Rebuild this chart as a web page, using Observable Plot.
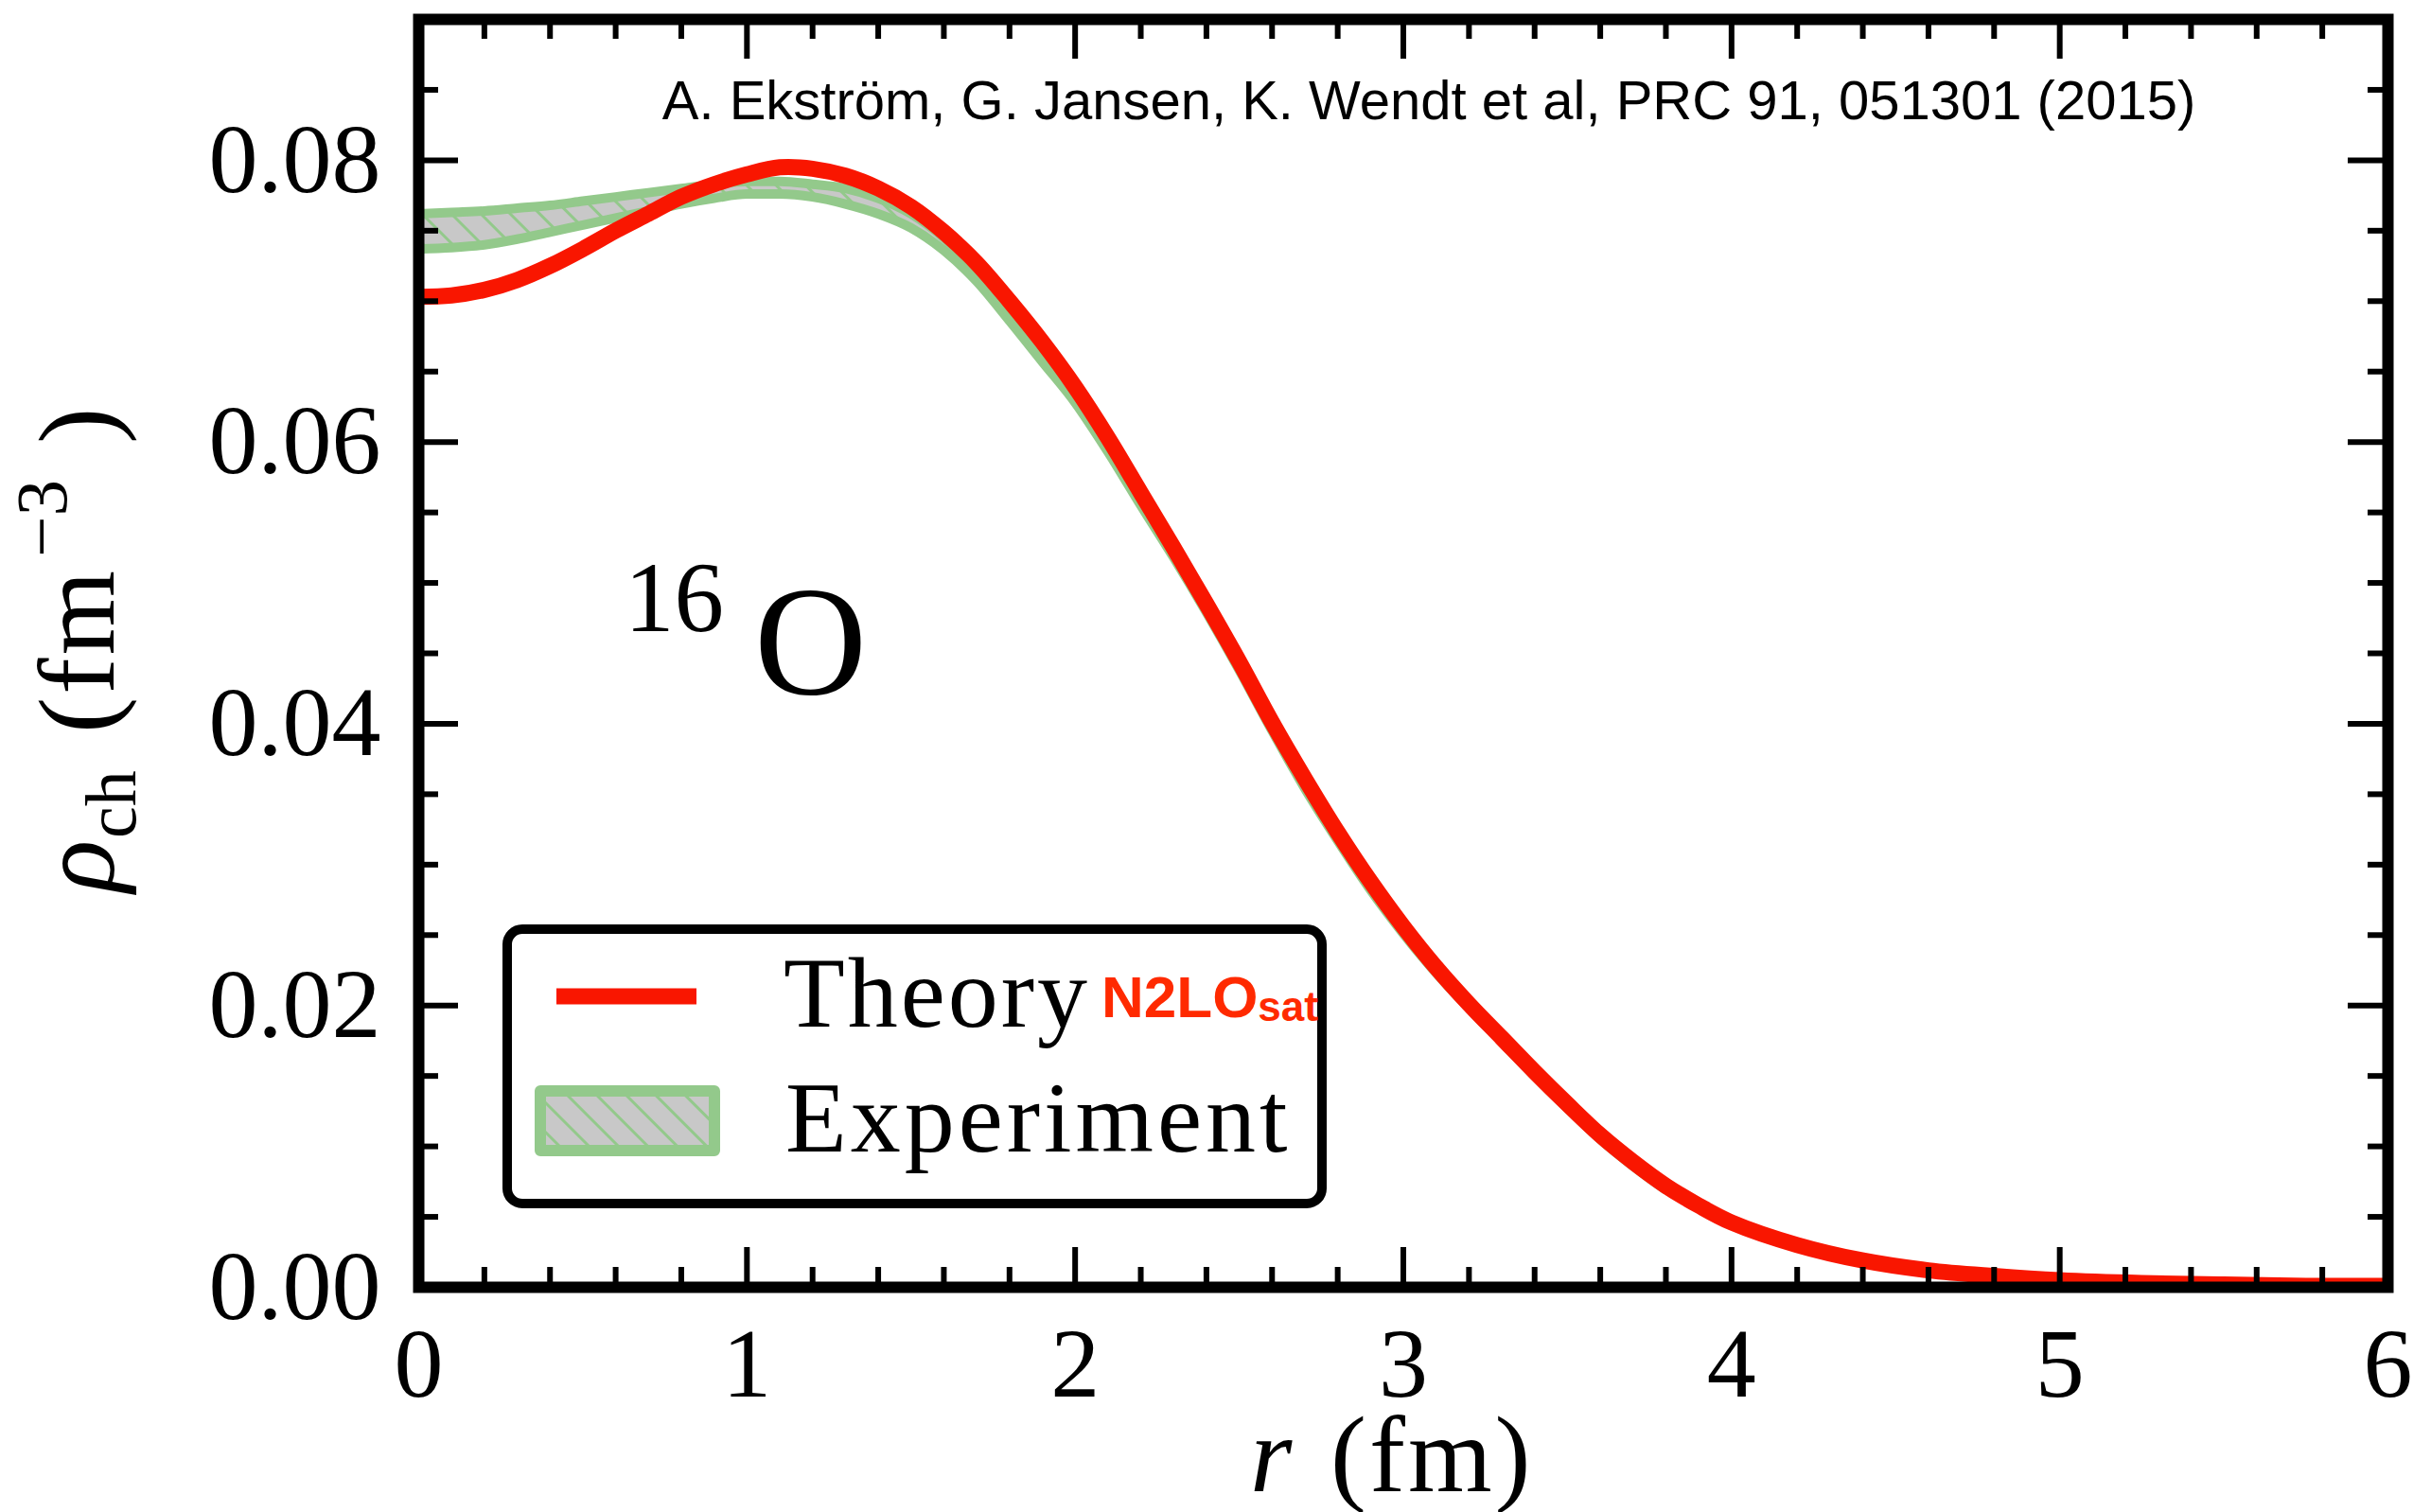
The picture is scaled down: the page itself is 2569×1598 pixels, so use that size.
<!DOCTYPE html>
<html><head><meta charset="utf-8">
<script src="https://cdn.jsdelivr.net/npm/d3@7"></script>
<script src="https://cdn.jsdelivr.net/npm/@observablehq/plot@0.6"></script>
<style>
html,body{margin:0;padding:0;background:#fff;}
#chart{position:relative;width:2569px;height:1598px;}
</style></head><body>
<svg width="0" height="0" style="position:absolute">
<defs>
<pattern id="hatch" patternUnits="userSpaceOnUse" width="22" height="22" patternTransform="rotate(-45)">
<rect width="22" height="22" fill="#c8c8c8"/>
<line x1="1.5" y1="0" x2="1.5" y2="22" stroke="#93c98b" stroke-width="3"/>
</pattern>
</defs></svg>
<div id="chart"></div>
<script>
// Theory (N2LOsat) charge density
const rTheory = [0,0.1,0.2,0.3,0.4,0.5,0.6,0.7,0.8,0.9,1.0,1.1,1.2,1.3,1.4,1.5,1.6,1.7,1.8,1.9,2.0,2.1,2.2,2.3,2.4,2.5,2.6,2.7,2.8,2.9,3.0,3.1,3.2,3.3,3.4,3.5,3.6,3.7,3.8,3.9,4.0,4.2,4.4,4.6,4.8,5.0,5.25,5.5,5.75,6.0];
const rhoTheory = [0.0703,0.0704,0.0708,0.0715,0.0725,0.0737,0.0750,0.0762,0.0774,0.0783,0.0790,0.0795,0.0794,0.0789,0.0780,0.0767,0.0749,0.0727,0.0700,0.0671,0.0639,0.0603,0.0564,0.0525,0.0485,0.0444,0.0401,0.0361,0.0323,0.0288,0.0256,0.0227,0.0201,0.0177,0.0153,0.0130,0.0108,0.0089,0.0072,0.0058,0.0046,0.0030,0.0019,0.0012,0.0008,0.0005,0.0003,0.0002,0.0001,0.0001];

// Experiment band
const rExp = [0,0.1,0.2,0.3,0.4,0.5,0.6,0.7,0.8,0.9,1.0,1.1,1.2,1.3,1.4,1.5,1.6,1.7,1.8,1.9,2.0,2.1,2.2,2.3,2.4,2.5,2.6,2.7,2.8,2.9,3.0,3.1,3.2,3.3,3.4,3.5,3.6,3.7,3.8];
const expLower = [0.0737,0.0738,0.0740,0.0744,0.0749,0.0754,0.0759,0.0764,0.0769,0.0773,0.0776,0.0776,0.0774,0.0769,0.0762,0.0752,0.0736,0.0714,0.0686,0.0657,0.0628,0.0593,0.0555,0.0518,0.0479,0.0438,0.0395,0.0354,0.0317,0.0282,0.0251,0.0223,0.0198,0.0174,0.0150,0.0127,0.0105,0.0086,0.0069];
const expUpper = [0.0762,0.0763,0.0764,0.0766,0.0768,0.0771,0.0774,0.0777,0.0780,0.0783,0.0785,0.0785,0.0783,0.0780,0.0773,0.0762,0.0745,0.0721,0.0691,0.0661,0.0632,0.0597,0.0559,0.0522,0.0483,0.0442,0.0399,0.0358,0.0321,0.0286,0.0255,0.0227,0.0202,0.0178,0.0154,0.0131,0.0109,0.0090,0.0073];

// Ticks
const xMajor = [0,1,2,3,4,5,6];
const xMinor = [0.2,0.4,0.6,0.8,1.2,1.4,1.6,1.8,2.2,2.4,2.6,2.8,3.2,3.4,3.6,3.8,4.2,4.4,4.6,4.8,5.2,5.4,5.6,5.8];
const yMajor = [0,0.02,0.04,0.06,0.08];
const yMinor = [0.005,0.01,0.015,0.025,0.03,0.035,0.045,0.05,0.055,0.065,0.07,0.075,0.085];

const RED = "#f91600", GREEN = "#93c98b";
const W = 2569, H = 1598, ML = 442, MR = 46, MT = 20, MB = 238;
const PW = W - ML - MR, PH = H - MT - MB;
const MAJ = 42, MIN = 21, TW = 6;

const theoryRows = rTheory.map((r, i) => ({r, rho: rhoTheory[i]}));
const expRows = rExp.map((r, i) => ({r, lo: expLower[i], hi: expUpper[i]}));

const serif = "Liberation Serif";

const plot = Plot.plot({
  width: W, height: H,
  marginLeft: ML, marginRight: MR, marginTop: MT, marginBottom: MB,
  x: {domain: [0, 6], label: null},
  y: {domain: [0, 0.09], label: null},
  style: {fontFamily: serif, fontSize: "104px", background: "white", color: "black", overflow: "visible"},
  marks: [
    Plot.areaY(expRows, {x: "r", y1: "lo", y2: "hi", fill: "url(#hatch)", curve: "monotone-x", clip: true}),
    Plot.line(expRows, {x: "r", y: "lo", stroke: GREEN, strokeWidth: 10, curve: "monotone-x", strokeLinecap: "butt", clip: true}),
    Plot.line(expRows, {x: "r", y: "hi", stroke: GREEN, strokeWidth: 10, curve: "monotone-x", strokeLinecap: "butt", clip: true}),
    Plot.line(theoryRows, {x: "r", y: "rho", stroke: RED, strokeWidth: 17, curve: "catmull-rom", strokeLinecap: "butt", clip: true}),
    // ticks (inward, all four sides)
    Plot.tickX(xMajor, {x: d => d, insetTop: PH - MAJ, stroke: "black", strokeWidth: TW}),
    Plot.tickX(xMajor, {x: d => d, insetBottom: PH - MAJ, stroke: "black", strokeWidth: TW}),
    Plot.tickX(xMinor, {x: d => d, insetTop: PH - MIN, stroke: "black", strokeWidth: TW}),
    Plot.tickX(xMinor, {x: d => d, insetBottom: PH - MIN, stroke: "black", strokeWidth: TW}),
    Plot.tickY(yMajor, {y: d => d, insetRight: PW - MAJ, stroke: "black", strokeWidth: TW}),
    Plot.tickY(yMajor, {y: d => d, insetLeft: PW - MAJ, stroke: "black", strokeWidth: TW}),
    Plot.tickY(yMinor, {y: d => d, insetRight: PW - MIN, stroke: "black", strokeWidth: TW}),
    Plot.tickY(yMinor, {y: d => d, insetLeft: PW - MIN, stroke: "black", strokeWidth: TW}),
    Plot.frame({stroke: "black", strokeWidth: 12}),
    Plot.axisX(xMajor, {tickSize: 0, tickPadding: 42, fontSize: 104, fontFamily: serif, tickFormat: d => String(d), label: null}),
    Plot.axisY(yMajor, {tickSize: 0, tickPadding: 40, fontSize: 104, fontFamily: serif, tickFormat: d3.format(".2f"), label: null})
  ]
});

document.getElementById("chart").appendChild(plot);
const svg = d3.select(plot);

// Reference text
svg.append("text")
  .attr("x", 1510).attr("y", 126).attr("text-anchor", "middle")
  .style("font-family", "Liberation Sans").style("font-size", "58px").attr("fill", "black")
  .text("A. Ekström, G. Jansen, K. Wendt et al, PRC 91, 051301 (2015)");

// 16O label
const iso = svg.append("text").attr("text-anchor", "start").style("font-family", serif).attr("fill", "black");
iso.append("tspan").attr("x", 660).attr("y", 667).style("font-size", "105px").text("16");
iso.append("tspan").attr("x", 797).attr("y", 733).style("font-size", "165px").text("O");

// x label
const xl = svg.append("text").attr("text-anchor", "start").style("font-family", serif).style("font-size", "114px").attr("fill", "black");
xl.append("tspan").attr("x", 1321).attr("y", 1576).style("font-style", "italic").text("r");
xl.append("tspan").attr("x", 1406).attr("y", 1576).style("letter-spacing", "3px").text("(fm)");

// y label (rotated)
const yl = svg.append("text").attr("text-anchor", "start").attr("transform", "translate(120,0) rotate(-90)")
  .style("font-family", serif).style("font-size", "115px").attr("fill", "black");
yl.append("tspan").attr("x", -943).attr("y", 0).style("font-style", "italic").text("ρ");
yl.append("tspan").attr("x", -886).attr("y", 23).style("font-size", "76px").text("ch");
yl.append("tspan").attr("x", -775).attr("y", 0).style("letter-spacing", "3px").text("(fm");
yl.append("tspan").attr("x", -589).attr("y", -50).style("font-size", "77px").text("−3");
yl.append("tspan").attr("x", -469).attr("y", 0).text(")");

// Legend
const lg = svg.append("g").attr("text-anchor", "start");
lg.append("rect").attr("x", 536).attr("y", 982).attr("width", 861).attr("height", 290)
  .attr("rx", 16).attr("fill", "white").attr("stroke", "black").attr("stroke-width", 10);
lg.append("line").attr("x1", 588).attr("x2", 736).attr("y1", 1053).attr("y2", 1053)
  .attr("stroke", RED).attr("stroke-width", 17);
lg.append("rect").attr("x", 571).attr("y", 1153).attr("width", 184).attr("height", 63)
  .attr("fill", "url(#hatch)").attr("stroke", GREEN).attr("stroke-width", 12).attr("stroke-linejoin", "round");
lg.append("text").attr("x", 828).attr("y", 1085).style("font-family", serif).style("font-size", "106px")
  .style("letter-spacing", "3px").attr("fill", "black").text("Theory");
const n2 = lg.append("text").attr("x", 1164).attr("y", 1075).style("font-family", "Liberation Sans")
  .style("font-weight", "bold").style("font-size", "62px").attr("fill", "#ff2a00");
n2.append("tspan").text("N2LO");
n2.append("tspan").attr("dy", 4).style("font-size", "44px").text("sat");
lg.append("text").attr("x", 830).attr("y", 1217).style("font-family", serif).style("font-size", "106px")
  .style("letter-spacing", "4px").attr("fill", "black").text("Experiment");
</script>
</body></html>
